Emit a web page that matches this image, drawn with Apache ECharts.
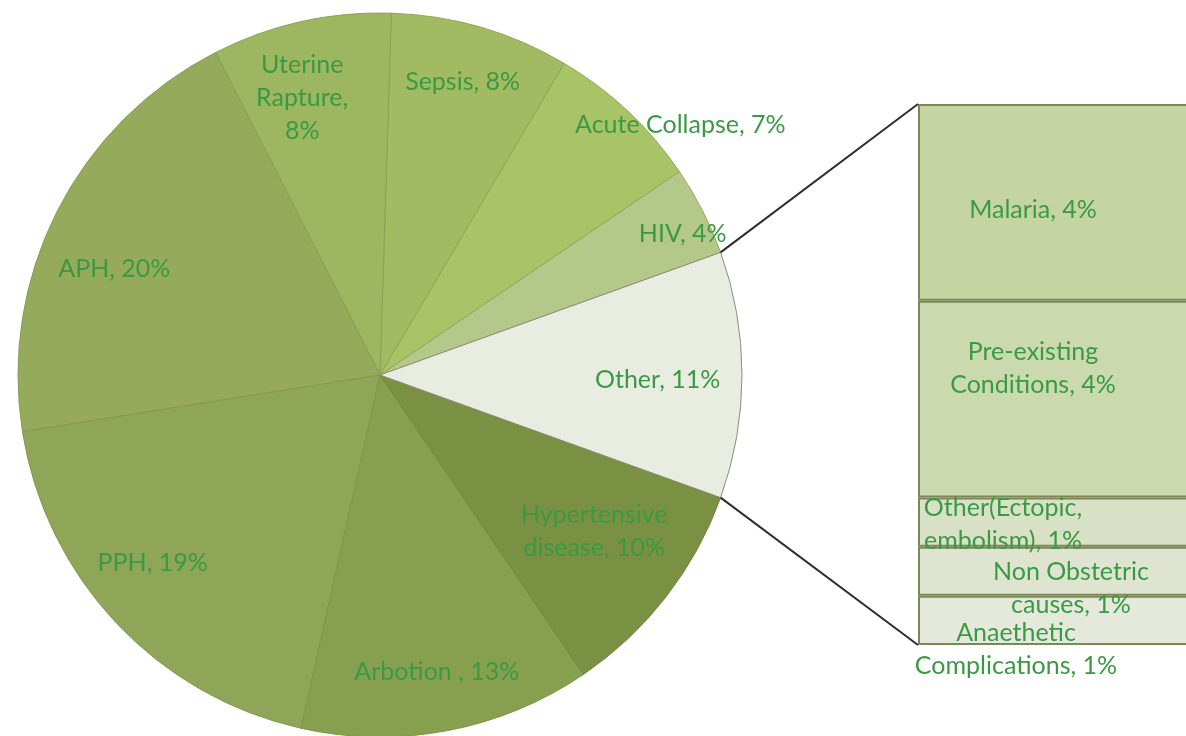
<!DOCTYPE html>
<html>
<head>
<meta charset="utf-8">
<script src="https://cdn.jsdelivr.net/npm/echarts@6/dist/echarts.min.js"></script>
<style>
html,body{margin:0;padding:0;background:#fff;}
#chart{width:1186px;height:736px;}
</style>
</head>
<body>
<div id="chart"></div>
<script>
// ---- data ----
const causes = ['HIV', 'Acute Collapse', 'Sepsis', 'Uterine Rapture', 'APH', 'PPH', 'Arbotion ', 'Hypertensive disease', 'Other'];
const shares = [4, 7, 8, 8, 20, 19, 13, 10, 11];
const pieLabels = ['HIV, 4%', 'Acute Collapse, 7%', 'Sepsis, 8%', 'Uterine\nRapture,\n8%', 'APH, 20%', 'PPH, 19%', 'Arbotion , 13%', 'Hypertensive\ndisease, 10%', 'Other, 11%'];
const otherCauses = ['Malaria', 'Pre-existing Conditions', 'Other(Ectopic, embolism)', 'Non Obstetric causes', 'Anaethetic Complications'];
const otherShares = [4, 4, 1, 1, 1];
const otherLabels = ['Malaria, 4%', 'Pre-existing\nConditions, 4%', 'Other(Ectopic,\nembolism), 1%', 'Non Obstetric\ncauses, 1%', 'Anaethetic\nComplications, 1%'];

// ---- styles ----
const pieColors = ['#b4c88a', '#a9c367', '#a2bb62', '#9db660', '#95aa5b', '#8fa557', '#86a04f', '#7a9043', '#e9ece1'];
const pieBorders = ['#92a866', '#90a858', '#8ea655', '#8aa253', '#889e52', '#849a4f', '#7d9648', '#72883e', '#8c8c78'];
const barColors = ['#c4d5a1', '#cbd9ae', '#d8e0c6', '#dfe4d1', '#e5e9db'];
const labelNudge = {
  'HIV': [42, -8], 'Acute Collapse': [100, -37], 'Sepsis': [1, -12], 'Uterine Rapture': [-14, 8],
  'APH': [-5, 27], 'PPH': [-14, -12], 'Arbotion ': [2, 10], 'Hypertensive disease': [-17, -23], 'Other': [-15, 5]
};
const barLabelPos = [[115, 106], [115, 68], [85, 27], [153, 42], [98, 54]];
const textColor = '#3a9a44';
const font = 'Lato';
const fontSize = 25;

const CX = 380, CY = 375, R = 362;
const BAR_LEFT = 918, BAR_TOP = 104, BAR_H = 541, BAR_W = 330;

const total = shares.reduce((a, b) => a + b, 0);
const otherIdx = causes.indexOf('Other');
const halfAngle = shares[otherIdx] / total * 360 / 2;

const chart = echarts.init(document.getElementById('chart'), null, {renderer: 'canvas'});

const pieData = causes.map((c, i) => ({
  name: c, value: shares[i],
  itemStyle: {color: pieColors[i], borderColor: pieBorders[i], borderWidth: 1}
}));
const labelData = causes.map((c, i) => ({
  name: c, value: shares[i],
  label: {formatter: pieLabels[i]}
}));

const barSeries = otherCauses.map((c, i) => ({
  name: c, type: 'bar', stack: 'other', xAxisIndex: 0, yAxisIndex: 0,
  barWidth: '100%',
  data: [otherShares[i]],
  itemStyle: {color: barColors[i], borderColor: '#7c8656', borderWidth: 2},
  label: {
    show: true, position: barLabelPos[i], align: 'center', verticalAlign: 'middle',
    formatter: otherLabels[i], color: textColor, fontFamily: font, fontSize: fontSize, lineHeight: 33
  },
  emphasis: {disabled: true}, silent: true
}));

function pt(deg, r) {
  const a = deg * Math.PI / 180;
  return [CX + r * Math.cos(a), CY - r * Math.sin(a)];
}
const pTop = pt(halfAngle, R);
const pBot = pt(-halfAngle, R);

chart.setOption({
  animation: false,
  backgroundColor: '#ffffff',
  grid: {left: BAR_LEFT, top: BAR_TOP, width: BAR_W, height: BAR_H, containLabel: false, outerBoundsMode: 'none'},
  xAxis: {type: 'category', data: ['Other'], show: false},
  yAxis: {type: 'value', min: 0, max: shares[otherIdx], inverse: true, show: false},
  series: [
    {
      type: 'pie', center: [CX, CY], radius: R,
      startAngle: halfAngle, clockwise: false,
      data: pieData, label: {show: false}, labelLine: {show: false},
      emphasis: {disabled: true}, silent: true
    },
    {
      type: 'pie', center: [CX, CY], radius: [R * 0.6, R],
      startAngle: halfAngle, clockwise: false,
      data: labelData,
      itemStyle: {color: 'rgba(0,0,0,0)'},
      label: {show: true, position: 'inside', color: textColor, fontFamily: font, fontSize: fontSize, lineHeight: 33, align: 'center'},
      labelLine: {show: false},
      labelLayout: function (p) {
        const n = labelNudge[causes[p.dataIndex]] || [0, 0];
        return {dx: n[0], dy: n[1]};
      },
      emphasis: {disabled: true}, silent: true, z: 5
    },
    ...barSeries
  ],
  graphic: [
    {type: 'line', shape: {x1: pTop[0], y1: pTop[1], x2: BAR_LEFT, y2: BAR_TOP}, style: {stroke: '#2e2e2e', lineWidth: 2}, z: 10},
    {type: 'line', shape: {x1: pBot[0], y1: pBot[1], x2: BAR_LEFT, y2: BAR_TOP + BAR_H}, style: {stroke: '#2e2e2e', lineWidth: 2}, z: 10}
  ]
});
</script>
</body>
</html>
